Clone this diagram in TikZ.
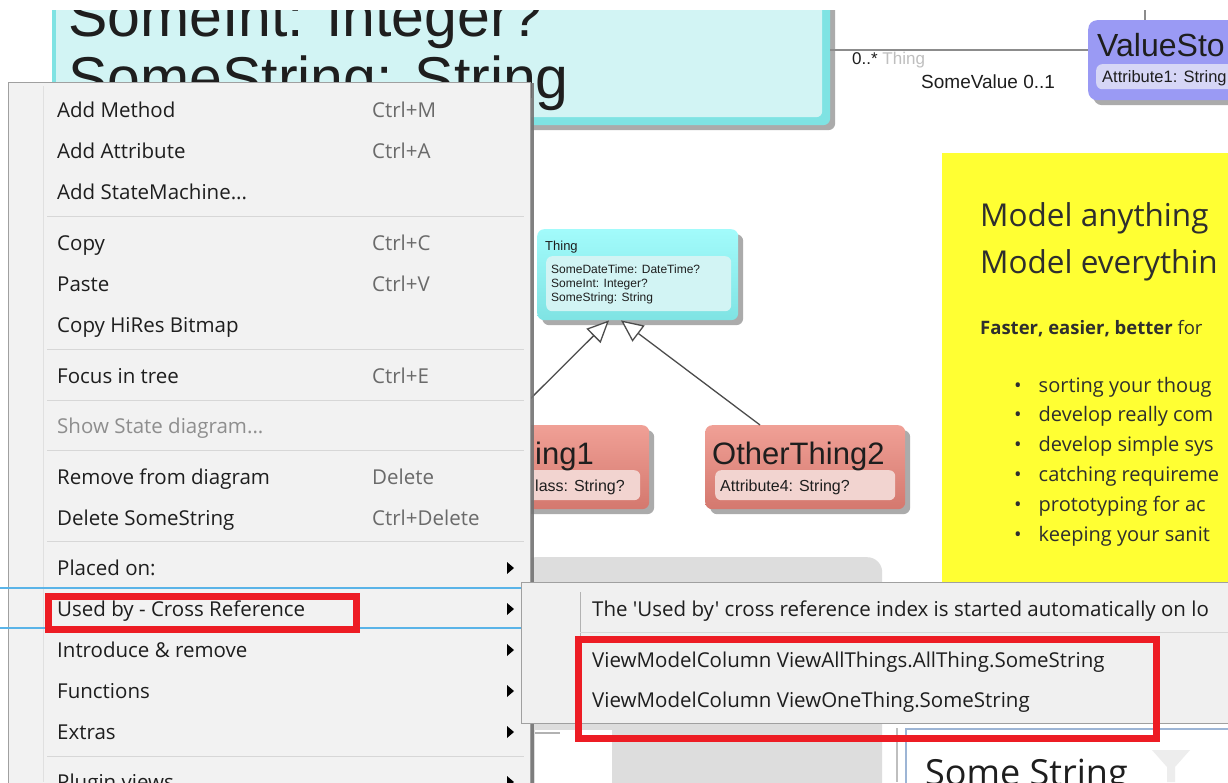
\documentclass[tikz,border=0pt]{standalone}
\usepackage{fontspec}
\setmainfont{Liberation Sans}
\newfontfamily\uifont{Open Sans}
\newfontfamily\umlfont{Liberation Sans}
\usepackage{tikz}
\usetikzlibrary{positioning,shapes,arrows.meta,backgrounds,calc,shadows}

\definecolor{menugray}{HTML}{F2F2F2}
\definecolor{subgray}{HTML}{F0F0F0}
\definecolor{menuborder}{HTML}{A0A0A0}
\definecolor{sepgray}{HTML}{D7D7D7}
\definecolor{hilite}{HTML}{5AB4E8}
\definecolor{markred}{HTML}{ED1C24}
\definecolor{cyanbody}{HTML}{7FE3E3}
\definecolor{cyantop}{HTML}{A2FBFB}
\definecolor{cyanpale}{HTML}{D2F4F4}
\definecolor{lilac}{HTML}{9A9AF4}
\definecolor{lilacpale}{HTML}{D6D6F6}
\definecolor{salmontop}{HTML}{F0A096}
\definecolor{salmonbot}{HTML}{D4786E}
\definecolor{salmonpale}{HTML}{F2D4D0}
\definecolor{notey}{HTML}{FFFF33}
\definecolor{panelgray}{HTML}{DDDDDD}
\definecolor{filterblue}{HTML}{9DB5D5}
\definecolor{txt}{HTML}{1E1E1E}
\definecolor{notetxt}{HTML}{2E2E2E}
\definecolor{keytxt}{HTML}{6A6A6A}
\definecolor{offtxt}{HTML}{8E8E8E}

\tikzstyle{boxbase} = [rectangle, inner sep=0pt, anchor=north west]
\tikzstyle{classbox} = [boxbase, rounded corners=7pt, %
   drop shadow={shadow xshift=5pt,shadow yshift=-5pt,fill=black!55,opacity=.6}]
\tikzstyle{attrbox} = [boxbase, rounded corners=6pt]
\tikzstyle{lbl} = [inner sep=0pt, anchor=base west, text=txt]
\tikzstyle{menuitem} = [lbl, font=\uifont\fontsize{20.5}{24}\selectfont]
\tikzstyle{shortcut} = [menuitem, text=keytxt]
\tikzstyle{notetext} = [lbl, text=notetxt, font=\uifont\fontsize{20}{23}\selectfont]
\tikzstyle{redframe} = [boxbase, draw=markred, line width=7pt]
\tikzstyle{assoc} = [draw=black!45, line width=1.6pt]
\tikzstyle{inherit} = [draw=black!70, line width=1.3pt, %
   -{Triangle[open,length=22pt,width=20pt,fill=white]}]
\tikzstyle{sepline} = [draw=sepgray, line width=1pt]

\begin{document}
\begin{tikzpicture}[x=1pt,y=-1pt]
   \useasboundingbox (0,0) rectangle (1228,782);
   \clip (0,0) rectangle (1228,782);
   \fill[white] (0,0) rectangle (1228,782);

   % CLASS DIAGRAM %%%%%%%%%%%%%%%%%%%%%%%%%%%%%%%%%%%%%%%%%%%%%%%%%%%
   \node[classbox, fill=cyanbody, minimum width=778pt, minimum height=150pt](someclass) at (52,-25){};
   \node[attrbox, fill=cyanpale, minimum width=766pt, minimum height=142pt](someattrs) at (56,-25){};
   \node[lbl, font=\umlfont\fontsize{59}{66}\selectfont](someint) at (68,36){SomeInt: Integer?};
   \node[lbl, font=\umlfont\fontsize{59}{66}\selectfont](somestring) at (68,98){SomeString: String};

   \node[classbox, rounded corners=9pt, fill=lilac, minimum width=160pt, minimum height=80pt](valuestore) at (1088,20){};
   \node[attrbox, fill=lilacpale, minimum width=150pt, minimum height=25pt](valueattrs) at (1096,64){};
   \node[lbl, font=\umlfont\fontsize{32}{36}\selectfont](valuename) at (1097,56){ValueSto};
   \node[lbl, font=\umlfont\fontsize{16.5}{18}\selectfont](valueattr) at (1102,82){Attribute1: String};

   % association
   \coordinate (vstop) at (1145,0);
   \path [assoc] (someclass.east) -- (someclass.east -| valuestore.west);
   \path [assoc] (vstop) -- (vstop |- valuestore.north);
   \node[lbl, font=\umlfont\fontsize{17}{20}\selectfont](roleend) at (852,64){0..* \textcolor{black!25}{Thing}};
   \node[lbl, font=\umlfont\fontsize{19}{22}\selectfont](rolestart) at (921,88){SomeValue 0..1};

   % Thing and its subclasses
   \node[classbox, top color=cyantop, bottom color=cyanbody, minimum width=201pt, minimum height=91pt](thing) at (537,229){};
   \node[attrbox, fill=cyanpale, minimum width=185pt, minimum height=55pt](thingattrs) at (546,256){};
   \node[lbl, font=\umlfont\fontsize{13}{15}\selectfont](thingname) at (545,250){Thing};
   \node[lbl, font=\umlfont\fontsize{12}{14}\selectfont](thingattr1) at (551,273){SomeDateTime: DateTime?};
   \node[lbl, font=\umlfont\fontsize{12}{14}\selectfont](thingattr2) at (551,287){SomeInt: Integer?};
   \node[lbl, font=\umlfont\fontsize{12}{14}\selectfont](thingattr3) at (551,301){SomeString: String};

   \node[classbox, top color=salmontop, bottom color=salmonbot, minimum width=179pt, minimum height=84pt](otherthing1) at (470,425){};
   \node[attrbox, fill=salmonpale, minimum width=162pt, minimum height=30pt](ot1attrs) at (478,470){};
   \node[lbl, font=\umlfont\fontsize{31}{34}\selectfont](ot1name) at (535,464){ing1};
   \node[lbl, font=\umlfont\fontsize{16}{18}\selectfont](ot1attr) at (535,491){lass: String?};

   \node[classbox, top color=salmontop, bottom color=salmonbot, minimum width=200pt, minimum height=84pt](otherthing2) at (705,425){};
   \node[attrbox, fill=salmonpale, minimum width=180pt, minimum height=30pt](ot2attrs) at (715,470){};
   \node[lbl, font=\umlfont\fontsize{31}{34}\selectfont](ot2name) at (712,464){OtherThing2};
   \node[lbl, font=\umlfont\fontsize{16}{18}\selectfont](ot2attr) at (720,491){Attribute4: String?};

   \path [inherit] ($(otherthing1.north west)+(34,0)$) -- ($(thing.south west)+(72,0)$);
   \path [inherit] ($(otherthing2.north west)+(55,0)$) -- ($(thing.south west)+(84,0)$);

   % NOTE %%%%%%%%%%%%%%%%%%%%%%%%%%%%%%%%%%%%%%%%%%%%%%%%%%%%%%%%%%%%
   \node[boxbase, fill=notey, minimum width=300pt, minimum height=440pt](note) at (942,153){};
   \node[lbl, text=notetxt, font=\uifont\fontsize{31.5}{36}\selectfont](notehead1) at (980,226){Model anything};
   \node[lbl, text=notetxt, font=\uifont\fontsize{31.5}{36}\selectfont](notehead2) at (980,273){Model everythin};
   \node[lbl, text=notetxt, font=\uifont\fontsize{18.5}{22}\selectfont](notesub) at (980,334){\textbf{Faster, easier, better} for};
   \node[notetext](bullet1) at (1014,392){\textbullet\hspace{17pt}sorting your thoug};
   \node[notetext](bullet2) at (1014,421){\textbullet\hspace{17pt}develop really com};
   \node[notetext](bullet3) at (1014,451){\textbullet\hspace{17pt}develop simple sys};
   \node[notetext](bullet4) at (1014,481){\textbullet\hspace{17pt}catching requireme};
   \node[notetext](bullet5) at (1014,511){\textbullet\hspace{17pt}prototyping for ac};
   \node[notetext](bullet6) at (1014,541){\textbullet\hspace{17pt}keeping your sanit};

   % PANELS BELOW %%%%%%%%%%%%%%%%%%%%%%%%%%%%%%%%%%%%%%%%%%%%%%%%%%%%
   \node[boxbase, fill=panelgray, rounded corners=15pt, minimum width=362pt, minimum height=250pt](panel) at (520,557){};
   \node[boxbase, fill=white, minimum width=77pt, minimum height=60pt](panelgap) at (535,730){};
   \draw[black!30, line width=1.5pt] ($(panelgap.north west)+(0,3)$) -- +(25,0);
   \draw[black!25, line width=1.5pt] (897,728) -- (897,782);
   \node[boxbase, fill=white, draw=filterblue, line width=1.5pt, minimum width=340pt, minimum height=80pt](filterbox) at (905,728){};
   \node[lbl, font=\uifont\fontsize{36}{40}\selectfont](filtertext) at (925,785){Some String};
   \fill[black!7] (1152,750) -- (1190,750) -- (1175,767) -- (1175,782) -- (1167,782) -- (1167,767) -- cycle;

   % CONTEXT MENU %%%%%%%%%%%%%%%%%%%%%%%%%%%%%%%%%%%%%%%%%%%%%%%%%%%%
   \node[boxbase, fill=menugray, draw=menuborder, line width=1pt, minimum width=522pt, minimum height=720pt, %
      drop shadow={shadow xshift=3pt,shadow yshift=0pt,fill=black!55,opacity=.9}](menu) at (8,82){};
   \draw[black!12, line width=1pt] (43,86) -- (43,782);
   \foreach \y in {216,349,400,450,541,756}
      \path [sepline] (47,\y) -- (524,\y);

   \node[menuitem](addmethod) at (57,117){Add Method};
   \node[shortcut](addmethodkey) at (372,117){Ctrl+M};
   \node[menuitem](addattr) at (57,158){Add Attribute};
   \node[shortcut](addattrkey) at (372,158){Ctrl+A};
   \node[menuitem](addsm) at (57,199){Add StateMachine...};
   \node[menuitem](copy) at (57,250){Copy};
   \node[shortcut](copykey) at (372,250){Ctrl+C};
   \node[menuitem](paste) at (57,291){Paste};
   \node[shortcut](pastekey) at (372,291){Ctrl+V};
   \node[menuitem](copybmp) at (57,332){Copy HiRes Bitmap};
   \node[menuitem](focus) at (57,383){Focus in tree};
   \node[shortcut](focuskey) at (372,383){Ctrl+E};
   \node[menuitem, text=offtxt](showstate) at (57,433){Show State diagram...};
   \node[menuitem](remove) at (57,484){Remove from diagram};
   \node[shortcut](removekey) at (372,484){Delete};
   \node[menuitem](delete) at (57,525){Delete SomeString};
   \node[shortcut](deletekey) at (372,525){Ctrl+Delete};
   \node[menuitem](placed) at (57,575){Placed on:};
   \node[menuitem](usedby) at (57,616){Used by - Cross Reference};
   \node[menuitem](introduce) at (57,657){Introduce \& remove};
   \node[menuitem](functions) at (57,698){Functions};
   \node[menuitem](extras) at (57,739){Extras};
   \node[menuitem](plugins) at (57,789){Plugin views};
   \foreach \y in {568,609,650,691,732,782}
      \fill[black] (507,{\y-6}) -- (514,\y) -- (507,{\y+6}) -- cycle;

   % highlighted entry
   \draw[hilite, line width=1.5pt] (0,588) -- (521,588);
   \draw[hilite, line width=1.5pt] (0,628) -- (521,628);
   \node[redframe, minimum width=308pt, minimum height=33pt](usedmark) at (45,592.5){};

   % SUBMENU %%%%%%%%%%%%%%%%%%%%%%%%%%%%%%%%%%%%%%%%%%%%%%%%%%%%%%%%%
   \node[boxbase, fill=subgray, draw=menuborder, line width=1pt, minimum width=720pt, minimum height=141pt](submenu) at (521,582){};
   \draw[black!30, line width=1pt] (580,592) -- (580,715);
   \path [sepline] (580,632) -- (1228,632);
   \node[menuitem](subnote) at (592,616){The 'Used by' cross reference index is started automatically on lo};
   \node[menuitem](subuse1) at (592,667){ViewModelColumn ViewAllThings.AllThing.SomeString};
   \node[menuitem](subuse2) at (592,707){ViewModelColumn ViewOneThing.SomeString};
   \node[redframe, minimum width=578pt, minimum height=99pt](usesmark) at (574.5,635.5){};

   % window edge
   \fill[white] (0,0) rectangle (1228,10);
\end{tikzpicture}
\end{document}
